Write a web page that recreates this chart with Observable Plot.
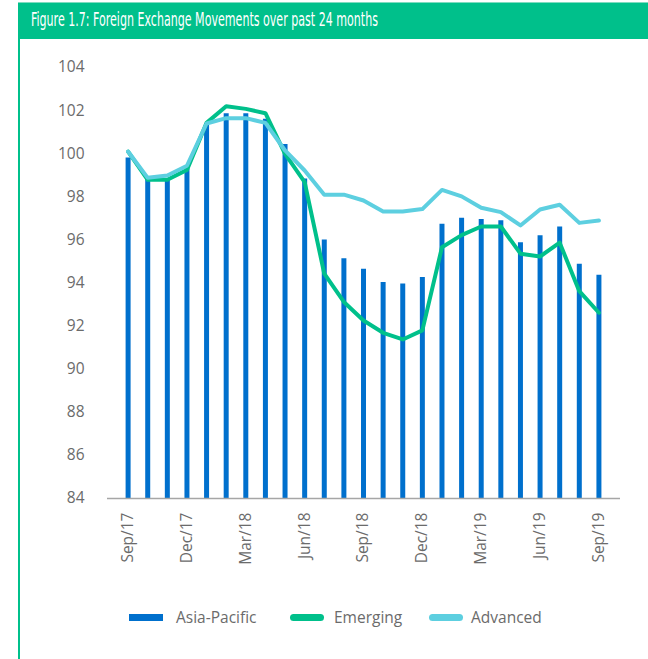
<!DOCTYPE html>
<html>
<head>
<meta charset="utf-8">
<script src="https://cdn.jsdelivr.net/npm/d3@7"></script>
<script src="https://cdn.jsdelivr.net/npm/@observablehq/plot@0.6"></script>
<style>
  html, body { margin: 0; padding: 0; background: #fff; }
  #wrap { position: relative; width: 648px; height: 659px; overflow: hidden; font-family: "Open Sans", sans-serif; }
  #titlebar { position: absolute; left: 18px; top: 2px; width: 630px; height: 37px; background: #00c08b; border-top: 1px solid #7fdcc0; box-sizing: border-box; }
  #title { position: absolute; left: 13px; top: 5px; color: #fff; font-family: "Liberation Sans Narrow", "DejaVu Sans Condensed", sans-serif; font-size: 19px; white-space: nowrap; transform-origin: 0 0; }
  #leftborder { position: absolute; left: 18px; top: 39px; width: 2px; height: 620px; background: #00c08b; }
  #chart { position: absolute; left: 0; top: 40px; }
  .leg { position: absolute; top: 606px; height: 22px; font-size: 15.5px; color: #6b6b6b; line-height: 22px; white-space: nowrap; }
  .sw { position: absolute; height: 7px; top: 8px; width: 34px; }
</style>
</head>
<body>
<div id="wrap">
  <div id="titlebar"><span id="title">Figure 1.7: Foreign Exchange Movements over past 24 months</span></div>
  <div id="leftborder"></div>
  <div id="chart"></div>
  <div class="leg" style="left:129px"><div class="sw" style="left:0;background:#0070cd"></div><span style="position:absolute;left:47px">Asia-Pacific</span></div>
  <div class="leg" style="left:290px"><div class="sw" style="left:0;background:#00c08b;border-radius:4px"></div><span style="position:absolute;left:44px">Emerging</span></div>
  <div class="leg" style="left:429px"><div class="sw" style="left:0;background:#5dcfe0;border-radius:4px"></div><span style="position:absolute;left:42px">Advanced</span></div>
</div>
<script>
const months = ["Sep/17","Oct/17","Nov/17","Dec/17","Jan/18","Feb/18","Mar/18","Apr/18","May/18","Jun/18","Jul/18","Aug/18","Sep/18","Oct/18","Nov/18","Dec/18","Jan/19","Feb/19","Mar/19","Apr/19","May/19","Jun/19","Jul/19","Aug/19","Sep/19"];
const asiaPacific = [99.8, 98.8, 98.8, 99.3, 101.4, 101.85, 101.85, 101.6, 100.43, 98.83, 96.0, 95.12, 94.64, 94.02, 93.95, 94.26, 96.73, 97.0, 96.95, 96.89, 95.87, 96.19, 96.6, 94.87, 94.36];
const emerging = [100.1, 98.79, 98.79, 99.25, 101.43, 102.2, 102.08, 101.88, 99.99, 98.68, 94.43, 93.12, 92.26, 91.69, 91.38, 91.8, 95.66, 96.22, 96.62, 96.62, 95.36, 95.23, 95.87, 93.62, 92.62];
const advanced = [100.1, 98.88, 98.99, 99.44, 101.4, 101.65, 101.65, 101.43, 100.15, 99.22, 98.1, 98.1, 97.83, 97.32, 97.32, 97.43, 98.32, 98.02, 97.49, 97.29, 96.67, 97.41, 97.63, 96.79, 96.9];
const yTicks = [84, 86, 88, 90, 92, 94, 96, 98, 100, 102, 104];
const xTickEvery = 3;

const data = months.map((m, i) => ({i, month: m, ap: asiaPacific[i], em: emerging[i], adv: advanced[i]}));

const chart = Plot.plot({
  width: 648,
  height: 528,
  marginTop: 27,
  marginBottom: 70,
  marginLeft: 107,
  marginRight: 28,
  style: {fontFamily: "'Open Sans', sans-serif", fontSize: "15.5px", color: "#6b6b6b", background: "transparent"},
  x: {type: "linear", domain: [-1.05, 25.1]},
  y: {domain: [84, 104]},
  marks: [
    Plot.ruleX(data, {x: "i", y1: 84, y2: "ap", stroke: "#0070cd", strokeWidth: 5}),
    Plot.line(data, {x: "i", y: "em", stroke: "#00c08b", strokeWidth: 4}),
    Plot.line(data, {x: "i", y: "adv", stroke: "#5dcfe0", strokeWidth: 4}),
    Plot.ruleY([84], {stroke: "#a6a6a6", strokeWidth: 1.5}),
    Plot.axisY({ticks: yTicks, tickSize: 0, tickPadding: 23, label: null}),
    Plot.axisX({ticks: d3.range(0, months.length, xTickEvery), tickFormat: i => months[i], tickRotate: -90, tickSize: 0, tickPadding: 14, label: null})
  ]
});
document.getElementById("chart").appendChild(chart);

const t = document.getElementById("title");
const w = t.getBoundingClientRect().width;
t.style.transform = `scaleX(${347 / w})`;
</script>
</body>
</html>
